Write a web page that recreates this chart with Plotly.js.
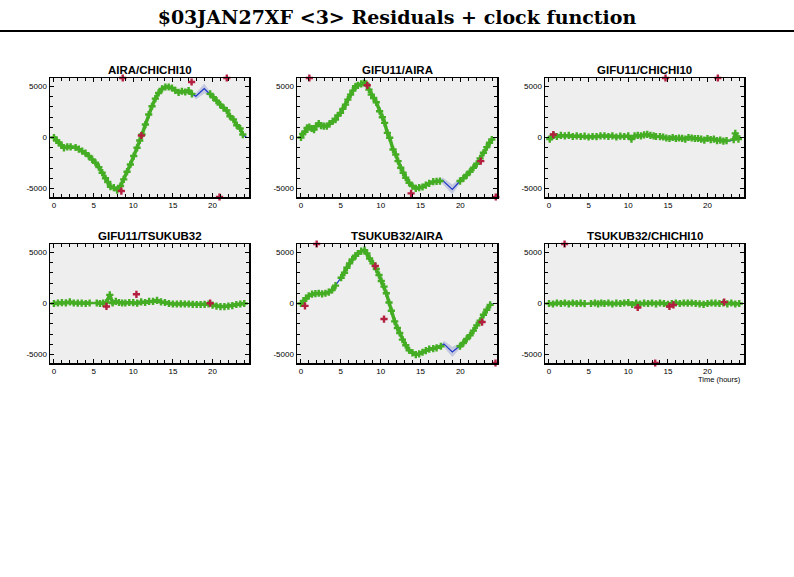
<!DOCTYPE html>
<html><head><meta charset="utf-8">
<script src="https://cdn.plot.ly/plotly-3.0.1.min.js"></script>
<style>html,body{margin:0;padding:0;background:#fff}#chart{width:794px;height:577px}</style>
</head><body><div id="chart"></div>
<script>
const chartTitle = '$03JAN27XF &lt;3&gt; Residuals + clock function';
const panelTitles = ['AIRA/CHICHI10','GIFU11/AIRA','GIFU11/CHICHI10','GIFU11/TSUKUB32','TSUKUB32/AIRA','TSUKUB32/CHICHI10'];
const xTickVals = [0,5,10,15,20];
const yTickVals = [-5000,0,5000];
const yTickText = ['-5000','0','5000'];
const xAxisLabel = 'Time (hours)';

// Panel 1: AIRA/CHICHI10
const p1DataT = [0,0.33,0.63,0.92,1.26,1.68,2.1,2.73,3.14,3.56,3.98,4.4,4.82,5.24,5.66,6.08,6.5,6.79,7.13,7.55,7.97,8.39,8.8,9.22,9.64,10.06,10.48,10.82,11.11,11.53,11.95,12.37,12.79,13.2,13.63,14.05,14.47,14.88,15.3,15.72,16.14,16.56,16.98,17.4,18.5,19.7,20.1,20.5,20.96,21.38,21.8,22.2,22.64,23.06,23.48,23.82];
const p1DataV = [0,-290,-520,-750,-1010,-910,-910,-980,-1140,-1335,-1530,-1820,-2150,-2475,-2900,-3450,-4000,-4365,-4820,-4920,-5150,-4755,-4100,-3350,-2640,-1820,-1010,-290,290,1270,2250,3060,3810,4365,4755,4950,4950,4850,4625,4430,4530,4460,4590,4270,null,4270,3940,3615,3225,2900,2640,2080,1760,1205,880,290];
const p1KnotT = [17.9,18.95,19.5,24.3];
const p1KnotV = [4040,4790,4365,0];
const p1BandT = [17.4,17.9,18.95,19.5,19.7];
const p1BandV = [4270,4040,4790,4365,4270];
const p1BandE = [0,280,450,280,0];
const p1FlagT = [8.68,8.5,11.03,17.36,21.8,20.88];
const p1FlagV = [5830,-5245,195,5440,5830,-5830];

// Panel 2: GIFU11/AIRA
const p2DataT = [0,0.21,0.5,0.76,1.05,1.34,1.64,1.89,2.23,2.52,2.86,3.24,3.57,3.99,4.33,4.62,4.96,5.25,5.59,5.88,6.22,6.51,6.85,7.14,7.56,7.9,8.19,8.53,8.82,9.12,9.45,9.87,10.21,10.5,10.84,11.13,11.55,11.89,12.18,12.52,12.82,13.15,13.57,13.99,14.41,14.83,15.25,15.67,16.09,16.6,17.02,17.44,18.5,19.96,20.38,20.8,21.2,21.64,22.06,22.48,22.9,23.32,23.66,23.95];
const p2DataV = [0,360,555,945,1010,880,780,1105,1370,1170,1105,1105,1335,1600,1760,2150,2410,2800,3225,3710,4200,4590,5015,5115,5245,5340,5245,4690,4200,3875,3450,2575,1990,1430,455,-30,-1170,-1660,-2310,-2965,-3450,-3940,-4430,-4755,-4985,-4920,-4850,-4660,-4495,-4330,-4300,-4265,null,-4265,-4000,-3680,-3355,-2965,-2575,-2050,-1500,-945,-520,-195];
const p2KnotT = [17.77,18.99,19.75,24.16];
const p2KnotV = [-4200,-5080,-4430,0];
const p2BandT = [17.44,17.77,18.99,19.75,19.96];
const p2BandV = [-4265,-4200,-5080,-4430,-4265];
const p2BandE = [0,250,450,250,0];
const p2FlagT = [1.05,8.32,13.82,22.56,24.45];
const p2FlagV = [5830,5115,-5470,-2310,-5830];

// Panel 3: GIFU11/CHICHI10
const p3DataT = [0.1,0.3,0.6,1.0,1.5,2.0,2.5,3.0,3.5,4.0,4.5,5.0,5.5,6.0,6.5,7.0,7.5,8.0,8.5,9.0,9.5,10.0,10.4,10.8,11.2,11.6,12.0,12.4,12.8,13.2,13.5,13.8,14.0,14.4,14.8,15.2,15.6,16.0,16.4,16.8,17.2,17.6,18.0,18.4,18.8,19.2,19.6,20.0,20.4,20.8,21.2,21.6,22.0,22.4,22.9,23.3,23.5,23.7,23.9];
const p3DataV = [-150,50,200,100,200,150,200,100,150,100,130,50,100,80,150,150,100,150,50,130,100,150,-150,150,200,150,250,300,200,150,100,null,80,50,-50,-100,0,-100,-50,-80,-150,0,-50,-100,-100,-150,-250,-100,-200,-150,-300,-250,-350,-300,null,-200,400,100,-150];
const p3KnotT = [13.8,22.9,24.3];
const p3KnotV = [50,-320,0];
const p3BandT = [], p3BandV = [], p3BandE = [];
const p3FlagT = [0.55,14.7,21.3];
const p3FlagV = [290,5830,5830];

// Panel 4: GIFU11/TSUKUB32
const p4DataT = [0,0.5,1.0,1.5,2.0,2.5,3.0,3.5,4.0,4.5,5.0,5.4,5.8,6.2,6.6,7.04,7.4,7.8,8.2,8.6,9.0,9.5,10.0,10.5,11.0,11.5,12.0,12.5,13.0,13.5,14.0,14.5,15.0,15.5,16.0,16.5,17.0,17.5,18.0,18.5,19.0,19.5,20.0,20.5,21.0,21.5,22.0,22.5,23.0,23.5,24.0];
const p4DataV = [0,50,80,60,150,50,30,40,0,50,null,50,0,30,100,850,50,200,100,50,50,100,80,30,150,100,200,200,300,150,100,0,-50,-50,-30,-50,-50,-80,-100,-100,-80,-50,-150,-250,-300,-300,-250,-200,-100,-50,0];
const p4KnotT = [5.0];
const p4KnotV = [0];
const p4BandT = [], p4BandV = [], p4BandE = [];
const p4FlagT = [6.62,10.4,19.7];
const p4FlagV = [-290,900,30];

// Panel 5: TSUKUB32/AIRA
const p5DataT = [0,0.34,0.63,0.97,1.39,1.81,2.23,2.65,3.07,3.49,3.91,4.33,4.62,5.04,5.46,5.76,6.09,6.43,6.85,7.14,7.56,7.98,8.28,8.61,9.03,9.45,9.79,10.08,10.42,10.71,11.05,11.34,11.76,12.1,12.39,12.73,13.15,13.57,13.99,14.41,14.83,15.25,15.67,16.09,16.6,17.02,17.56,18.5,19.96,20.38,20.8,21.22,21.64,22.06,22.48,22.9,23.32,23.74];
const p5DataV = [0,260,520,745,910,975,1005,940,1005,1105,1330,1755,null,2530,3020,3505,3930,4320,4675,4900,5130,5225,4900,4415,3930,3375,2790,2210,1655,1005,100,-715,-1755,-2400,-2890,-3540,-4090,-4580,-4840,-5000,-4935,-4775,-4610,-4480,-4415,-4350,-4190,null,-4190,-3865,-3475,-3115,-2660,-2140,-1690,-1105,-615,-130];
const p5KnotT = [4.62,17.94,18.99,19.75,24.03];
const p5KnotV = [2140,-3960,-4740,-4285,0];
const p5BandT = [17.56,17.94,18.99,19.75,19.96];
const p5BandV = [-4190,-3960,-4740,-4285,-4190];
const p5BandE = [0,280,480,280,0];
const p5FlagT = [1.97,0.5,9.33,10.42,22.73,24.41];
const p5FlagV = [5830,-230,3670,-1525,-1820,-5830];

// Panel 6: TSUKUB32/CHICHI10
const p6DataT = [0,0.5,1.0,1.5,2.0,2.5,3.0,3.5,4.0,4.5,4.9,5.3,5.8,6.2,6.6,7.0,7.5,8.0,8.5,9.0,9.5,10.0,10.5,11.0,11.5,12.0,12.5,13.0,13.5,14.0,14.5,15.0,15.5,16.0,16.5,17.0,17.5,18.0,18.5,19.0,19.5,20.0,20.5,21.0,21.5,22.0,22.5,23.0,23.5,24.0];
const p6DataV = [0,-50,50,0,50,-30,50,0,30,-20,null,0,50,-30,50,0,50,-50,30,0,50,80,-100,50,-50,30,0,50,-30,50,0,-80,0,50,0,50,30,50,0,-30,-80,0,50,30,0,50,-30,50,-50,0];
const p6KnotT = [4.9,24.3];
const p6KnotV = [0,0];
const p6BandT = [], p6BandV = [], p6BandE = [];
const p6FlagT = [1.97,11.2,15.2,15.7,22.1,13.4];
const p6FlagV = [5830,-390,-290,-130,130,-5830];

const panels = [
  {dt:p1DataT,dv:p1DataV,kt:p1KnotT,kv:p1KnotV,bt:p1BandT,bv:p1BandV,be:p1BandE,ft:p1FlagT,fv:p1FlagV},
  {dt:p2DataT,dv:p2DataV,kt:p2KnotT,kv:p2KnotV,bt:p2BandT,bv:p2BandV,be:p2BandE,ft:p2FlagT,fv:p2FlagV},
  {dt:p3DataT,dv:p3DataV,kt:p3KnotT,kv:p3KnotV,bt:p3BandT,bv:p3BandV,be:p3BandE,ft:p3FlagT,fv:p3FlagV},
  {dt:p4DataT,dv:p4DataV,kt:p4KnotT,kv:p4KnotV,bt:p4BandT,bv:p4BandV,be:p4BandE,ft:p4FlagT,fv:p4FlagV},
  {dt:p5DataT,dv:p5DataV,kt:p5KnotT,kv:p5KnotV,bt:p5BandT,bv:p5BandV,be:p5BandE,ft:p5FlagT,fv:p5FlagV},
  {dt:p6DataT,dv:p6DataV,kt:p6KnotT,kv:p6KnotV,bt:p6BandT,bv:p6BandV,be:p6BandE,ft:p6FlagT,fv:p6FlagV}
];

const GREEN = '#44ad24', RED = '#b3203f', BLUE = '#1f36c8', BAND = '#c3c8de';
const W = 794, H = 577;
const colPx = [[50,249],[297,497],[545,744]];
const rowPx = [[78,197],[244,363]];
const traces = [];
const layout = {
  width: W, height: H,
  margin: {l:0,r:0,t:0,b:0,pad:0},
  paper_bgcolor: '#ffffff',
  plot_bgcolor: '#eeeeee',
  showlegend: false,
  title: {text: chartTitle, x:0.5, xanchor:'center', y: 1-17/H, yanchor:'middle', yref:'container',
          font:{family:'DejaVu Serif', size:19, color:'#000', weight:'bold'}},
  shapes: [{type:'line', xref:'paper', yref:'paper', x0:0, x1:1, y0:1-31/H, y1:1-31/H, line:{color:'#000', width:2}}],
  annotations: []
};

panels.forEach((p, i) => {
  const suf = i === 0 ? '' : String(i+1);
  const xa = 'x'+suf, ya = 'y'+suf;
  const c = colPx[i%3], r = rowPx[Math.floor(i/3)];
  if (p.bt.length) {
    const bx = p.bt.concat(p.bt.slice().reverse());
    const by = p.bv.map((v,j)=>v+p.be[j]).concat(p.bv.map((v,j)=>v-p.be[j]).reverse());
    traces.push({x:bx, y:by, xaxis:xa, yaxis:ya, mode:'lines', fill:'toself', fillcolor:BAND, line:{width:0.5, color:BAND}, hoverinfo:'skip'});
  }
  const pts = [];
  p.dt.forEach((t,j)=>{ if (p.dv[j] !== null) pts.push([t,p.dv[j]]); });
  p.kt.forEach((t,j)=>pts.push([t,p.kv[j]]));
  pts.sort((a,b)=>a[0]-b[0]);
  traces.push({x:pts.map(q=>q[0]), y:pts.map(q=>q[1]), xaxis:xa, yaxis:ya, mode:'lines', line:{color:BLUE, width:1.2}, hoverinfo:'skip'});
  traces.push({x:p.dt, y:p.dv, xaxis:xa, yaxis:ya, mode:'lines+markers', connectgaps:false,
    line:{color:GREEN, width:3.5}, marker:{symbol:'cross', size:6, color:GREEN, line:{width:0}}});
  traces.push({x:p.ft, y:p.fv, xaxis:xa, yaxis:ya, mode:'markers', cliponaxis:false,
    marker:{symbol:'cross', size:6, color:RED, line:{width:0}}});

  const common = {ticks:'inside', ticklen:4, tickwidth:1, tickcolor:'#000', showline:true, linecolor:'#000', linewidth:1.5,
    mirror:'allticks', showgrid:false, zeroline:false, fixedrange:true,
    tickfont:{family:'Liberation Sans, Arial', size:8, color:'#000'}};
  layout['xaxis'+suf] = Object.assign({}, common, {
    domain:[c[0]/W, c[1]/W], anchor:ya, range:[-0.5,24.6], tickmode:'array', tickvals:xTickVals,
    minor:{tickmode:'linear', tick0:0, dtick:1, ticks:'inside', ticklen:3, tickwidth:1, tickcolor:'#000', showgrid:false}
  });
  layout['yaxis'+suf] = Object.assign({}, common, {
    domain:[1-r[1]/H, 1-r[0]/H], anchor:xa, range:[-5830,5830], tickmode:'array', tickvals:yTickVals, ticktext:yTickText,
    minor:{tickmode:'linear', tick0:0, dtick:1000, ticks:'inside', ticklen:3, tickwidth:1, tickcolor:'#000', showgrid:false}
  });
  layout.annotations.push({text:'<b>'+panelTitles[i]+'</b>', xref:'paper', yref:'paper', x:(c[0]+c[1])/2/W, y:1-(r[0]-8)/H,
    xanchor:'center', yanchor:'middle', showarrow:false, font:{family:'Liberation Sans, Arial', size:11.5, color:'#000'}});
});
layout.annotations.push({text:xAxisLabel, xref:'paper', yref:'paper', x:743/W, y:1-379/H, xanchor:'right', yanchor:'middle',
  showarrow:false, font:{family:'Liberation Sans, Arial', size:7.5, color:'#000'}});

Plotly.newPlot('chart', traces, layout, {staticPlot:true, displayModeBar:false});
</script>
</body></html>
